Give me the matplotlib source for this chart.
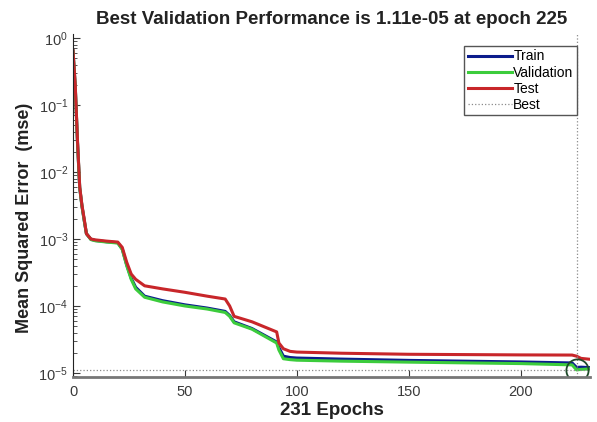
import matplotlib
matplotlib.use('Agg')
import matplotlib.pyplot as plt
import numpy as np

plt.rcParams['font.family'] = ['Liberation Sans', 'DejaVu Sans']

epochs = [0, 1, 2, 3, 4, 5, 6, 8, 10, 15, 20, 22, 24, 26, 28, 32, 40, 50, 60, 68,
          70, 72, 80, 91, 92, 94, 97, 100, 120, 150, 200, 223, 225, 227, 231]

train = [0.64, 0.19, 0.028, 0.0058, 0.0031, 0.0019, 0.0012, 0.00099, 0.00095, 0.00091,
         0.00088, 0.00071, 0.00041, 0.00026, 0.00019, 0.00014, 0.00012, 0.000104, 0.000093, 0.000083,
         0.000072, 0.000058, 0.000046, 0.000029, 0.000024, 0.0000178, 0.000017, 0.0000167, 0.0000161, 0.0000154,
         0.0000146, 0.0000141, 0.0000121, 0.0000122, 0.000012]
validation = [0.64, 0.19, 0.028, 0.0058, 0.0031, 0.0019, 0.0012, 0.00098, 0.00094, 0.0009,
              0.00087, 0.0007, 0.0004, 0.00025, 0.00018, 0.000135, 0.000115, 0.0001, 0.00009, 0.00008,
              0.00007, 0.000056, 0.000045, 0.000028, 0.000022, 0.0000163, 0.0000158, 0.0000155, 0.000015, 0.0000145,
              0.0000138, 0.0000132, 0.0000111, 0.0000113, 0.0000115]
test = [0.65, 0.2, 0.03, 0.006, 0.0032, 0.002, 0.0012, 0.001, 0.00097, 0.00093,
        0.0009, 0.00075, 0.00045, 0.0003, 0.00025, 0.0002, 0.00018, 0.00016, 0.00014, 0.000127,
        0.0001, 0.00007, 0.000058, 0.000041, 0.000028, 0.000023, 0.000021, 0.0000205, 0.0000197, 0.000019,
        0.0000186, 0.0000185, 0.0000178, 0.0000165, 0.000016]

best_epoch = 225
best_perf = 1.11e-05
n_epochs = 231

fig = plt.figure(figsize=(5.97, 4.22), dpi=100)
ax = fig.add_axes([73/597, 1-377/422, 517/597, 343/422])

ax.plot(epochs, train, color='#0b1c8c', lw=2.2, label='Train')
ax.plot(epochs, validation, color='#3ccc3c', lw=2.2, label='Validation')
ax.plot(epochs, test, color='#c8262a', lw=2.2, label='Test')
ax.axhline(best_perf, color='#8a8a8a', lw=0.9, ls=':', label='Best')
ax.axvline(best_epoch, color='#8a8a8a', lw=0.9, ls=':')
ax.plot([best_epoch], [best_perf], 'o', ms=16, mfc='none', mec='#1f4a2a', mew=1.3)

ax.set_yscale('log')
ax.set_xlim(0, n_epochs)
ax.set_ylim(8.7e-6, 1.15)
ax.set_xticks([0, 50, 100, 150, 200])
ax.tick_params(axis='both', which='both', direction='in', colors='#3a3a3a', labelsize=10.5)
ax.tick_params(axis='y', which='major', length=5)
ax.tick_params(axis='y', which='minor', length=3)
ax.tick_params(axis='x', length=5, pad=6)

for s in ['top', 'right']:
    ax.spines[s].set_visible(False)
ax.spines['bottom'].set_color('#777777')
ax.spines['bottom'].set_linewidth(2)
ax.spines['left'].set_color('#222222')

ax.set_title('Best Validation Performance is 1.11e-05 at epoch 225', fontsize=13.5,
             fontweight='bold', pad=7, color='#222222')
ax.set_xlabel('231 Epochs', fontsize=13.5, fontweight='bold', labelpad=2, color='#222222')
ax.set_ylabel('Mean Squared Error  (mse)', fontsize=13, fontweight='bold', color='#222222')
ax.yaxis.set_label_coords(-0.078, 0.465)

leg = ax.legend(loc='upper right', bbox_to_anchor=(0.975, 0.965), borderaxespad=0,
                fontsize=10, handlelength=3.2, handletextpad=0.1, labelspacing=0.15,
                borderpad=0.25, fancybox=False, framealpha=1)
leg.get_frame().set_edgecolor('#555555')
leg.get_frame().set_linewidth(1)

plt.savefig('out.png', dpi=100)
